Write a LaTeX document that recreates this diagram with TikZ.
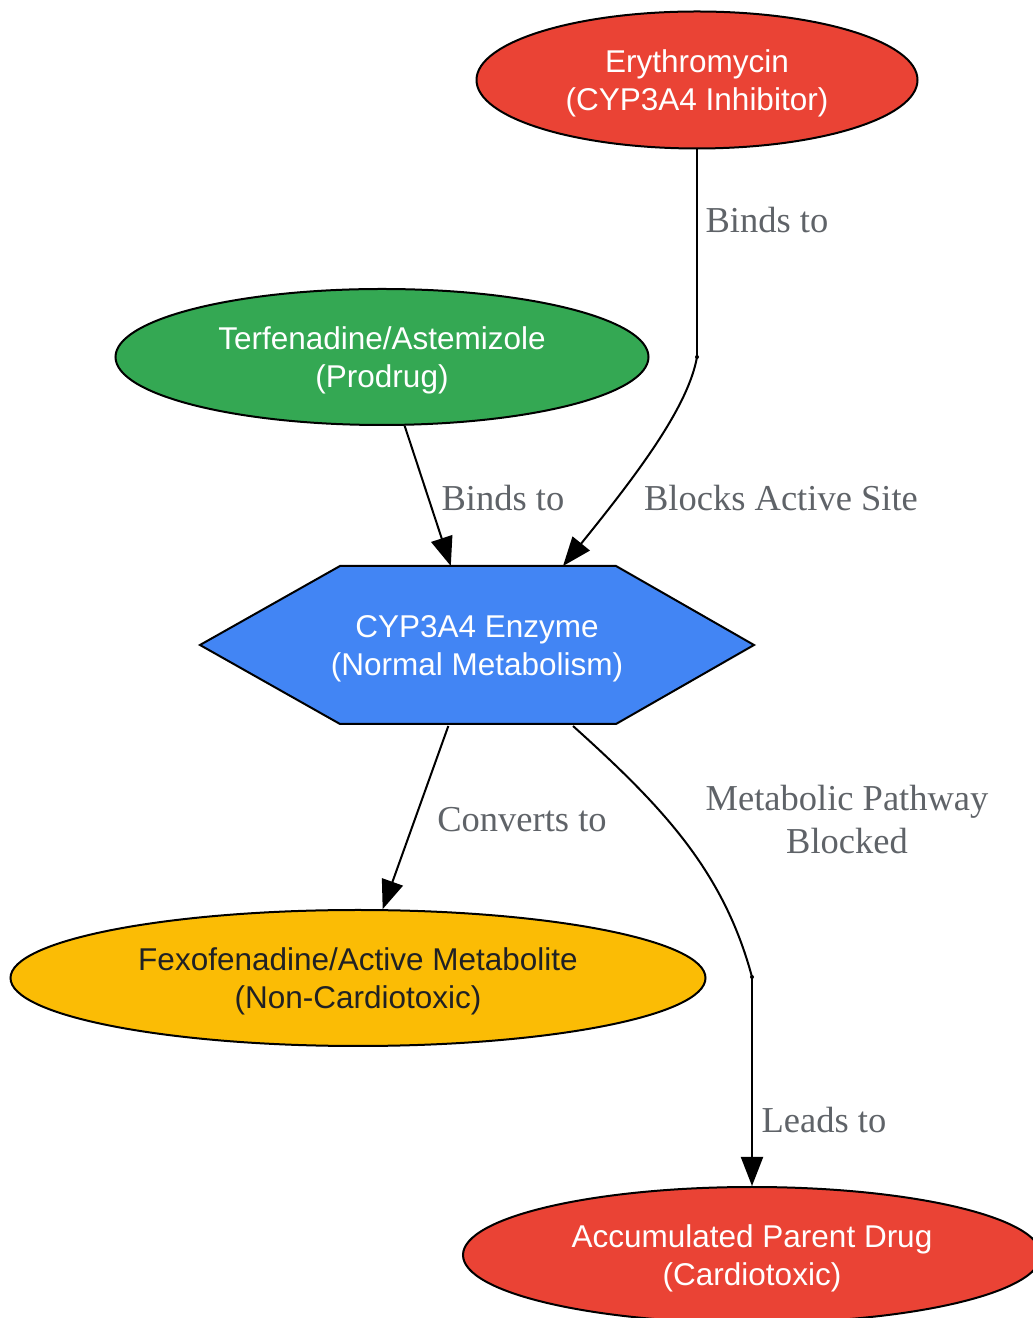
\documentclass[tikz,border=0pt]{standalone}
\usepackage{fontspec}
\setmainfont{Liberation Serif}
\setsansfont{Liberation Sans}
\usetikzlibrary{shapes.geometric,arrows.meta}
\definecolor{gred}{HTML}{EA4335}
\definecolor{ggreen}{HTML}{34A853}
\definecolor{gblue}{HTML}{4285F4}
\definecolor{gyellow}{HTML}{FBBC05}
\definecolor{lblgray}{HTML}{5F6368}
\definecolor{darktext}{HTML}{202124}
\begin{document}
\begin{tikzpicture}[x=1pt,y=1pt,line width=2pt,
  >={Triangle[length=29pt,width=22pt]},
  drug/.style={ellipse, draw=black, inner sep=0pt, align=center, text=white, text depth=0pt,
    font=\sffamily\fontsize{31.5}{38}\selectfont},
  lbl/.style={align=center, text=lblgray, inner sep=0pt,
    font=\fontsize{36.5}{43}\selectfont}]
\useasboundingbox (0,0) rectangle (1033,1318);

\node[drug, fill=gred, minimum width=441pt, minimum height=137pt](ery) at (697,1238) {Erythromycin\\(CYP3A4 Inhibitor)};
\node[drug, fill=ggreen, minimum width=533pt, minimum height=136pt](terf) at (382,961) {Terfenadine/Astemizole\\(Prodrug)};
\draw[fill=gblue] (340,752) -- (616,752) -- (754,673) -- (616,594) -- (340,594) -- (200,673) -- cycle;
\node[rectangle, minimum width=276pt, minimum height=158pt, align=center, text=white, text depth=0pt,
  font=\sffamily\fontsize{31.5}{38}\selectfont](enz) at (477,672) {CYP3A4 Enzyme\\(Normal Metabolism)};
\node[drug, fill=gyellow, text=darktext, minimum width=695pt, minimum height=136pt](fexo) at (358,340) {Fexofenadine/Active Metabolite\\(Non-Cardiotoxic)};
\node[drug, fill=gred, minimum width=578pt, minimum height=136pt](acc) at (752,63) {Accumulated Parent Drug\\(Cardiotoxic)};

\coordinate (m1) at (697,961);
\coordinate (m2) at (752,341);

\draw (ery) -- (m1);
\draw[->] (m1) .. controls +(-100:50) and +(51:120) .. ([xshift=86pt]enz.north);
\draw[->] (terf) -- (enz);
\draw[->] (enz) -- (fexo);
\draw ([xshift=96pt]enz.south) .. controls +(-42:120) and +(105:110) .. (m2);
\draw[->] (m2) -- (acc);
\fill (m1) circle (2pt);
\fill (m2) circle (2pt);

\node[lbl](bindsery) at (767,1098) {Binds to};
\node[lbl](blocks) at (781,820) {Blocks Active Site};
\node[lbl](bindsterf) at (503,820) {Binds to};
\node[lbl](converts) at (522,498) {Converts to};
\node[lbl](pathway) at (847,498) {Metabolic Pathway\\Blocked};
\node[lbl](leads) at (824,198) {Leads to};
\end{tikzpicture}
\end{document}
